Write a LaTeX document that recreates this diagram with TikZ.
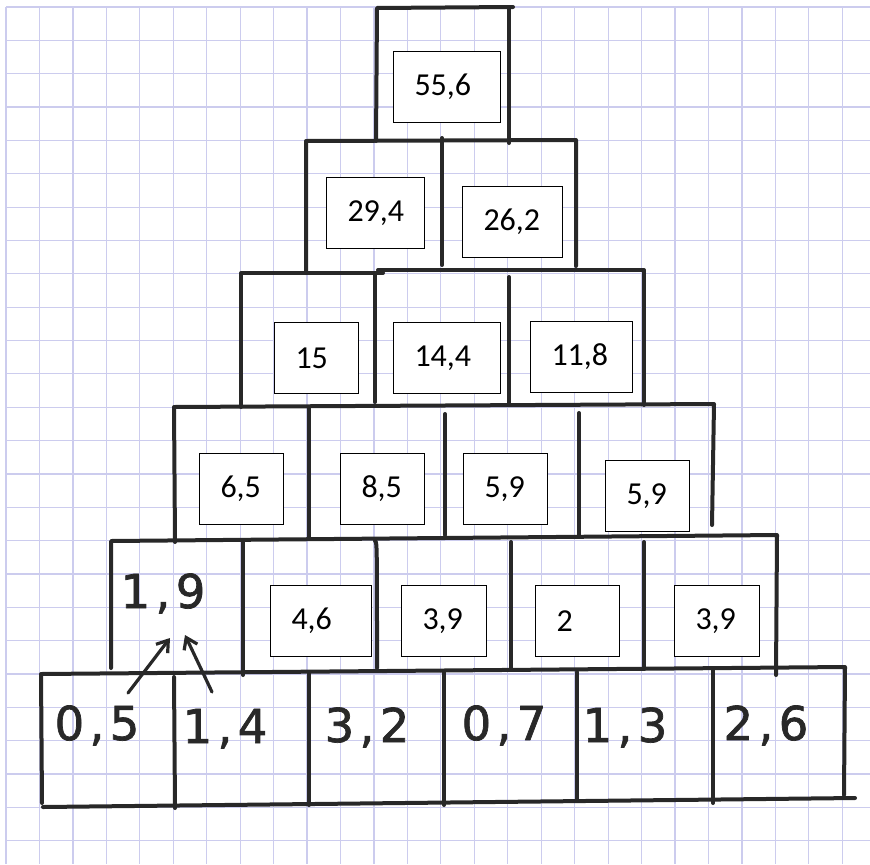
\documentclass[tikz,border=0pt]{standalone}
\usepackage{fontspec}
\newfontfamily\boxfont{Carlito}
\newfontfamily\handfont[FakeBold=1.5]{DejaVu Sans}
\usetikzlibrary{arrows.meta,calc}
\definecolor{gridblue}{RGB}{204,204,238}
\definecolor{handgray}{RGB}{40,40,40}
\tikzset{
	>=Stealth,
	karo/.style={
		draw=gridblue,
		line width=0.9pt},
	strich/.style={
		draw=handgray,
		line width=3pt,
		line cap=round,
		line join=round},
	zahlbox/.style={
		draw=black,
		line width=0.75pt,
		fill=white,
		anchor=north west,
		align=left,
		inner xsep=15.75pt,
		minimum height=53pt,
		font=\boxfont\fontsize{24}{27}\selectfont},
	hand/.style={
		anchor=base,
		inner sep=0pt,
		text=handgray,
		font=\handfont\fontsize{35}{40}\selectfont},
	pfeil/.style={
		-{Straight Barb[length=8pt,width=11pt]},
		draw=handgray,
		line width=2.4pt,
		line cap=round,
		line join=round}
}
\newcommand{\komma}{\hspace{4pt},\hspace{4pt}}
\begin{document}
\begin{tikzpicture}[x=0.75pt,y=0.75pt,yscale=-1,xscale=1]
\useasboundingbox (0,0) rectangle (870,864);
\fill[white] (0,0) rectangle (870,864);
% grid paper
\foreach \i in {0,...,25} {
	\draw[karo] ({6+33.45*\i},7) -- ({6+33.45*\i},864);
	\draw[karo] (6,{7+33.35*\i}) -- (870,{7+33.35*\i});
}

% row 6
\draw[strich] (376,141) -- (377,8) -- (513,7);
\draw[strich] (509,7) -- (509,143);
% row 5
\draw[strich] (306,273) -- (306,141) -- (576,140) -- (576,266);
\draw[strich] (442,138) -- (442,265);
% row 4
\draw[strich] (241,407) -- (241,273) -- (383,273);
\draw[strich] (378,270) -- (644,270) -- (644,405);
\draw[strich] (375,273) -- (375,402);
\draw[strich] (509,277) -- (509,405);
% row 3
\draw[strich] (175,542) -- (174,407) -- (714,404) -- (712,525);
\draw[strich] (309,408) -- (309,537);
\draw[strich] (445,414) -- (445,535);
\draw[strich] (579,413) -- (579,535);
% row 2
\draw[strich] (111,668) -- (111,541) -- (777,535) -- (776,675);
\draw[strich] (243,541) -- (243,675);
\draw[strich] (375,541) .. controls (377,542) .. (377,668);
\draw[strich] (511,542) -- (511,668);
\draw[strich] (644,542) -- (644,668);
% row 1
\draw[strich] (42,803) -- (41,674) -- (845,667) -- (844,795);
\draw[strich] (43,807) -- (855,798);
\draw[strich] (174,677) -- (175,808);
\draw[strich] (309,673) -- (309,805);
\draw[strich] (444,672) -- (444,805);
\draw[strich] (577,672) -- (577,800);
\draw[strich] (713,670) -- (713,803);

% Text Node
\draw (393,51) node [zahlbox, text width=48.75pt] (b556) {55,6};
% Text Node
\draw (326,177) node [zahlbox, text width=42pt] (b294) {29,4};
% Text Node
\draw (462,186) node [zahlbox, text width=43.5pt] (b262) {26,2};
% Text Node
\draw (274,322) node [zahlbox, text width=31.5pt] (b15) {15};
% Text Node
\draw (393,322) node [zahlbox, text width=48.75pt] (b144) {14,4};
% Text Node
\draw (530,321) node [zahlbox, text width=45pt] (b118) {11,8};
% Text Node
\draw (199,453) node [zahlbox, text width=31.5pt] (b65) {6,5};
% Text Node
\draw (340,453) node [zahlbox, text width=31.5pt] (b85) {8,5};
% Text Node
\draw (463,453) node [zahlbox, text width=31.5pt] (b59a) {5,9};
% Text Node
\draw (605,460) node [zahlbox, text width=31.5pt] (b59b) {5,9};
% Text Node
\draw (270,585) node [zahlbox, text width=44.25pt] (b46) {4,6};
% Text Node
\draw (401,585) node [zahlbox, text width=32.25pt] (b39a) {3,9};
% Text Node
\draw (535,585) node [zahlbox, text width=31.5pt] (b2) {2};
% Text Node
\draw (674,585) node [zahlbox, text width=32.25pt] (b39b) {3,9};

% handwritten numbers
\draw (163,608) node [hand] (n19) {1\komma9};
\draw (97,740) node [hand] (n05) {0\komma5};
\draw (225,743) node [hand] (n14) {1\komma4};
\draw (367,742) node [hand] (n32) {3\komma2};
\draw (504,740) node [hand] (n07) {0\komma7};
\draw (625,742) node [hand] (n13) {1\komma3};
\draw (766,740) node [hand] (n26) {2\komma6};

\draw[pfeil] ($(n05.base)+(31,-47)$) -- ($(n19.base)+(7,30)$);
\draw[pfeil] ($(n14.base)+(-13,-51)$) -- ($(n19.base)+(22,27)$);
\end{tikzpicture}
\end{document}
